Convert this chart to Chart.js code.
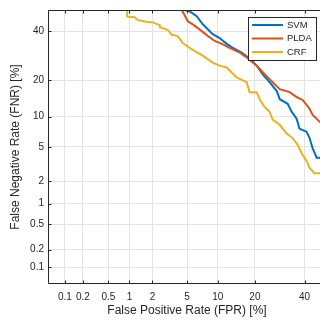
<!DOCTYPE html>
<html>
<head>
<meta charset="utf-8">
<script src="https://cdn.jsdelivr.net/npm/chart.js@4"></script>
<style>
html, body { margin: 0; padding: 0; overflow: hidden; background: #fff; }
canvas { display: block; }
</style>
</head>
<body>
<canvas id="det" width="328" height="325"></canvas>
<script>
// tick positions (in %) and their labels, same on both axes
var tickValues = [0.1, 0.2, 0.5, 1, 2, 5, 10, 20, 40];
var tickLabels = ['0.1', '0.2', '0.5', '1', '2', '5', '10', '20', '40'];
var axisMin = 0.05, axisMax = 50;

var seriesNames = ['SVM', 'PLDA', 'CRF'];
var seriesColors = ['#0072BD', '#D95319', '#EDB120'];

// FPR / FNR in percent
var svmFPR = [4.73, 4.73, 5.35, 6.3, 7.2, 9.0, 10.4, 12.0, 13.5, 15.9, 18.3, 20.6, 22.7, 25.2, 28.0, 29.2, 32.5, 34.2, 36.4, 37.7, 40.9, 42.3, 43.7, 45.6, 47, 50];
var svmFNR = [60, 50, 49.3, 47.0, 43.3, 38.6, 36.8, 34.2, 32.5, 30.4, 28.0, 25.2, 22.0, 19.3, 16.5, 14.2, 13.0, 11.1, 9.6, 7.7, 7.2, 6.2, 4.85, 3.8, 3.8, 3.6];

var pldaFPR = [4.39, 4.39, 4.73, 5.1, 5.9, 7.07, 8.08, 9.4, 10.9, 12.7, 15.4, 17.4, 19.3, 20.6, 23.4, 26.4, 29.2, 33.4, 36.4, 39.1, 40.9, 42.3, 43.7, 46.0, 47, 50];
var pldaFNR = [60, 50, 47.4, 44.6, 42.8, 40.0, 37.8, 35.5, 34.2, 32.5, 30.4, 28.4, 26.4, 25.2, 22.0, 19.3, 17.1, 16.2, 14.8, 14.0, 12.7, 11.8, 10.4, 9.4, 9.0, 8.3];

var crfFPR = [0.93, 0.93, 1.18, 1.30, 1.68, 2.02, 2.46, 2.46, 3.05, 3.40, 3.97, 4.5, 5.74, 7.23, 9.0, 10.4, 12.0, 14.5, 17.4, 18.3, 20.6, 21.6, 23.4, 25.2, 26.4, 29.2, 32.1, 34.6, 36.8, 38.6, 40.9, 42.3, 44.6, 47, 50];
var crfFNR = [60, 46.8, 46.5, 45.2, 44.4, 44.1, 42.8, 41.8, 40.6, 38.3, 37.7, 34.6, 31.6, 29.2, 26.4, 25.2, 24.5, 20.9, 19.3, 16.2, 16.2, 14.2, 12.2, 11.1, 9.4, 8.4, 6.9, 6.2, 5.3, 4.3, 3.5, 2.9, 2.5, 2.5, 2.4];

// inverse normal CDF (Acklam), DET axes are probit scaled
function probit(p) {
  var a = [-3.969683028665376e+01, 2.209460984245205e+02, -2.759285104469687e+02, 1.383577518672690e+02, -3.066479806614716e+01, 2.506628277459239e+00];
  var b = [-5.447609879822406e+01, 1.615858368580409e+02, -1.556989798598866e+02, 6.680131188771972e+01, -1.328068155288572e+01];
  var c = [-7.784894002430293e-03, -3.223964580411365e-01, -2.400758277161838e+00, -2.549732539343734e+00, 4.374664141464968e+00, 2.938163982698783e+00];
  var d = [7.784695709041462e-03, 3.224671290700398e-01, 2.445134137142996e+00, 3.754408661907416e+00];
  var q, r;
  if (p < 0.02425) {
    q = Math.sqrt(-2 * Math.log(p));
    return (((((c[0]*q+c[1])*q+c[2])*q+c[3])*q+c[4])*q+c[5]) / ((((d[0]*q+d[1])*q+d[2])*q+d[3])*q+1);
  }
  if (p > 1 - 0.02425) {
    q = Math.sqrt(-2 * Math.log(1 - p));
    return -(((((c[0]*q+c[1])*q+c[2])*q+c[3])*q+c[4])*q+c[5]) / ((((d[0]*q+d[1])*q+d[2])*q+d[3])*q+1);
  }
  q = p - 0.5; r = q * q;
  return (((((a[0]*r+a[1])*r+a[2])*r+a[3])*r+a[4])*r+a[5])*q / (((((b[0]*r+b[1])*r+b[2])*r+b[3])*r+b[4])*r+1);
}
function pct(v) { return probit(v / 100); }

function toPoints(fpr, fnr) {
  var pts = [];
  for (var i = 0; i < fpr.length; i++) pts.push({ x: pct(fpr[i]), y: pct(fnr[i]) });
  return pts;
}

var textColor = '#262626';
var gridColor = '#e3e3e3';
var fontFamily = '"Liberation Sans", Arial, sans-serif';

function setTicks(axis) {
  axis.ticks = tickValues.map(function (v) { return { value: pct(v) }; });
}
function tickLabel(value, index) { return tickLabels[index]; }

// axes box with inward ticks, axis titles and the legend
var framePlugin = {
  id: 'frame',
  afterDraw: function (chart) {
    var ctx = chart.ctx, a = chart.chartArea;
    var xs = chart.scales.x, ys = chart.scales.y;
    ctx.save();
    ctx.strokeStyle = textColor;
    ctx.lineWidth = 1;
    var L = Math.round(a.left) + 0.5, R = Math.round(a.right) - 0.5;
    var T = Math.round(a.top) + 0.5, B = Math.round(a.bottom) - 0.5;
    ctx.beginPath();
    ctx.moveTo(L, T); ctx.lineTo(R, T); ctx.lineTo(R, B); ctx.lineTo(L, B); ctx.closePath();
    ctx.stroke();
    ctx.beginPath();
    tickValues.forEach(function (v) {
      var px = Math.round(xs.getPixelForValue(pct(v))) + 0.5;
      ctx.moveTo(px, B); ctx.lineTo(px, B - 3);
      ctx.moveTo(px, T); ctx.lineTo(px, T + 3);
      var py = Math.round(ys.getPixelForValue(pct(v))) + 0.5;
      ctx.moveTo(L, py); ctx.lineTo(L + 3, py);
      ctx.moveTo(R, py); ctx.lineTo(R - 3, py);
    });
    ctx.stroke();

    ctx.fillStyle = textColor;
    ctx.font = '12px ' + fontFamily;
    ctx.textAlign = 'center';
    ctx.textBaseline = 'middle';
    ctx.fillText('False Positive Rate (FPR) [%]', (a.left + a.right) / 2, 311);
    ctx.save();
    ctx.translate(16, (a.top + a.bottom) / 2);
    ctx.rotate(-Math.PI / 2);
    ctx.fillText('False Negative Rate (FNR) [%]', 0, 0);
    ctx.restore();

    // legend
    var lx = 248.5, ly = 17.5, lw = 68, lh = 43;
    ctx.fillStyle = '#fff';
    ctx.fillRect(lx, ly, lw, lh);
    ctx.strokeStyle = textColor;
    ctx.lineWidth = 1;
    ctx.strokeRect(lx, ly, lw, lh);
    ctx.font = '9.5px ' + fontFamily;
    ctx.textAlign = 'left';
    for (var i = 0; i < seriesNames.length; i++) {
      var yy = 25 + i * 13.5;
      ctx.strokeStyle = seriesColors[i];
      ctx.lineWidth = 2;
      ctx.beginPath();
      ctx.moveTo(252, yy); ctx.lineTo(283, yy);
      ctx.stroke();
      ctx.fillStyle = textColor;
      ctx.fillText(seriesNames[i], 287, yy);
    }
    ctx.restore();
  }
};

var allFPR = [svmFPR, pldaFPR, crfFPR];
var allFNR = [svmFNR, pldaFNR, crfFNR];
var datasets = seriesNames.map(function (name, i) {
  return {
    label: name,
    data: toPoints(allFPR[i], allFNR[i]),
    borderColor: seriesColors[i],
    borderWidth: 2,
    pointRadius: 0,
    tension: 0,
    fill: false,
    order: 3 - i
  };
});

new Chart(document.getElementById('det'), {
  type: 'line',
  data: { datasets: datasets },
  options: {
    responsive: false,
    animation: false,
    events: [],
    layout: { padding: { top: 6, right: 2, left: 0, bottom: 0 } },
    plugins: { legend: { display: false }, tooltip: { enabled: false } },
    scales: {
      x: {
        type: 'linear',
        min: pct(axisMin),
        max: pct(axisMax),
        afterBuildTicks: setTicks,
        afterFit: function (s) { s.height = 41; },
        grid: { color: gridColor, drawTicks: false },
        border: { display: false },
        ticks: {
          callback: tickLabel, autoSkip: false, maxRotation: 0, padding: 7,
          color: textColor, font: { family: fontFamily, size: 10 }
        }
      },
      y: {
        type: 'linear',
        min: pct(axisMin),
        max: pct(axisMax),
        afterBuildTicks: setTicks,
        afterFit: function (s) { s.width = 48; },
        grid: { color: gridColor, drawTicks: false },
        border: { display: false },
        ticks: {
          callback: tickLabel, autoSkip: false, padding: 4,
          color: textColor, font: { family: fontFamily, size: 10 }
        }
      }
    }
  },
  plugins: [framePlugin]
});
</script>
</body>
</html>
